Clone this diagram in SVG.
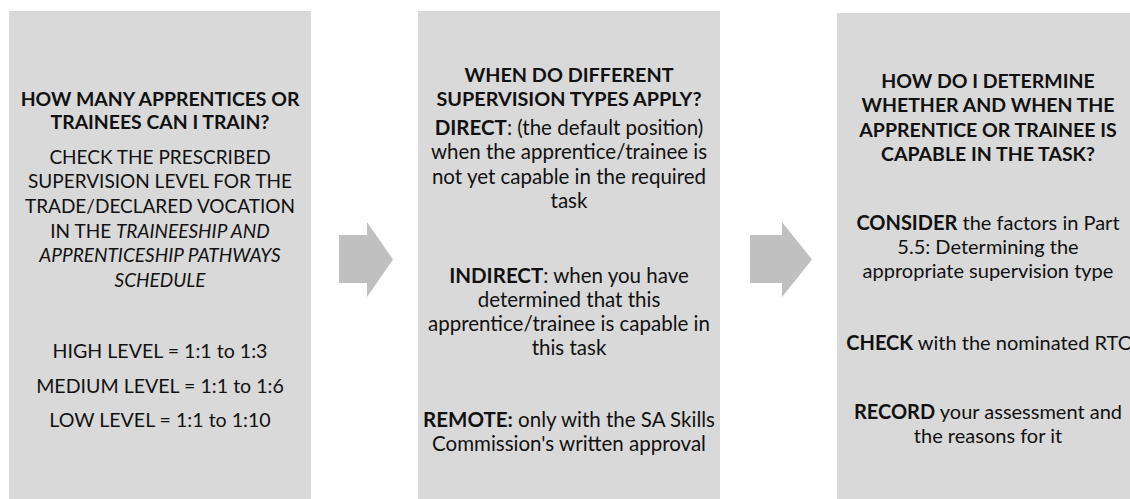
<svg xmlns="http://www.w3.org/2000/svg" width="1130" height="499" viewBox="0 0 1130 499">
<style>
.box{fill:#d9d9d9}
.arr{fill:#c0c0c0}
text{font-family:Lato,"Open Sans","Liberation Sans",sans-serif;font-size:20px;fill:#111;text-anchor:middle}
.b{font-weight:bold}
.i{font-style:italic}
.t1{font-size:19.4px}
.c1{font-size:19px}
.lv{font-size:19.6px}
.t2{font-size:19.8px}
.s2{font-size:20.5px}
.t3{font-size:19.5px}
</style>
<rect width="1130" height="499" fill="#fff"/>
<g id="connectors">
<path class="arr" d="M339,235 H367 V222 L393,259.5 L367,297 V283 H339 Z"/>
<path class="arr" d="M750,235 H782 V222 L812,259.5 L782,297 V283 H750 Z"/>
</g>
<g id="node1">
<rect class="box" x="9" y="11" width="302" height="488"/>
<text class="b t1" x="160" y="106">HOW MANY APPRENTICES OR</text>
<text class="b t1" x="160" y="129">TRAINEES CAN I TRAIN?</text>
<text class="c1" x="160" y="164">CHECK THE PRESCRIBED</text>
<text class="c1" x="160" y="188">SUPERVISION LEVEL FOR THE</text>
<text class="c1" x="160" y="213">TRADE/DECLARED VOCATION</text>
<text class="c1" x="160" y="238">IN THE <tspan class="i">TRAINEESHIP AND</tspan></text>
<text class="c1 i" x="160" y="262">APPRENTICESHIP PATHWAYS</text>
<text class="c1 i" x="160" y="287">SCHEDULE</text>
<text class="lv" x="160" y="358">HIGH LEVEL = 1:1 to 1:3</text>
<text class="lv" x="160" y="393">MEDIUM LEVEL = 1:1 to 1:6</text>
<text class="lv" x="160" y="427">LOW LEVEL = 1:1 to 1:10</text>
</g>
<g id="node2">
<rect class="box" x="418" y="11" width="302" height="488"/>
<text class="b t2" x="569" y="82">WHEN DO DIFFERENT</text>
<text class="b t2" x="569" y="106">SUPERVISION TYPES APPLY?</text>
<text class="s2" x="569" y="135"><tspan class="b">DIRECT</tspan>: (the default position)</text>
<text class="s2" x="569" y="159">when the apprentice/trainee is</text>
<text class="s2" x="569" y="184">not yet capable in the required</text>
<text class="s2" x="569" y="208">task</text>
<text class="s2" x="569" y="283"><tspan class="b">INDIRECT</tspan>: when you have</text>
<text class="s2" x="569" y="307">determined that this</text>
<text class="s2" x="569" y="331">apprentice/trainee is capable in</text>
<text class="s2" x="569" y="355">this task</text>
<text class="s2" x="569" y="427"><tspan class="b">REMOTE:</tspan> only with the SA Skills</text>
<text class="s2" x="569" y="451">Commission's written approval</text>
</g>
<g id="node3">
<rect class="box" x="837" y="13" width="303" height="486"/>
<text class="b t3" x="988" y="88">HOW DO I DETERMINE</text>
<text class="b t3" x="988" y="112">WHETHER AND WHEN THE</text>
<text class="b t3" x="988" y="137">APPRENTICE OR TRAINEE IS</text>
<text class="b t3" x="988" y="161">CAPABLE IN THE TASK?</text>
<text x="988" y="230"><tspan class="b">CONSIDER</tspan>  the factors in Part</text>
<text x="988" y="254">5.5: Determining the</text>
<text x="988" y="278">appropriate supervision type</text>
<text x="990" y="350"><tspan class="b">CHECK</tspan> with the nominated RTO</text>
<text x="988" y="419"><tspan class="b">RECORD</tspan> your assessment and</text>
<text x="988" y="443">the reasons for it</text>
</g>
</svg>
